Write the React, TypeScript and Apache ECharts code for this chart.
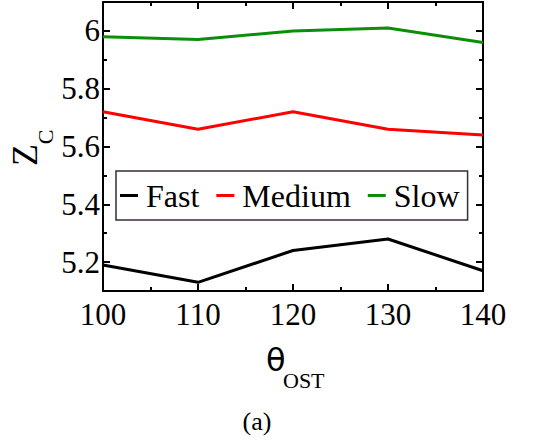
import React, { useEffect, useRef } from "react";
import * as echarts from "echarts";

const thetas = [100, 110, 120, 130, 140];
const fast = [5.19, 5.13, 5.24, 5.28, 5.17];
const medium = [5.72, 5.66, 5.72, 5.66, 5.64];
const slow = [5.98, 5.97, 6.0, 6.01, 5.96];
const yMajor = [5.2, 5.4, 5.6, 5.8, 6];
const yMinor = [5.1, 5.3, 5.5, 5.7, 5.9, 6.1];
const seriesNames = ["Fast", "Medium", "Slow"];
const seriesColors = ["#000000", "#ff0000", "#0b8f0b"];

const SERIF = "serif";

export default function App() {
  const ref = useRef<HTMLDivElement>(null);
  useEffect(() => {
    if (!ref.current) return;
    const chart = echarts.init(ref.current, null, { renderer: "svg" });
    const values = [fast, medium, slow];
    const axisLine = { show: true, lineStyle: { color: "#000", width: 2 } };
    const tickStyle = { color: "#000", width: 2 };
    const yBase = (pos: string, ticks: number[], len: number, labels: boolean, line: boolean) => ({
      type: "value",
      position: pos,
      min: 5.1,
      max: 6.1,
      axisLine: line ? axisLine : { show: false },
      axisTick: { show: true, inside: true, length: len, customValues: ticks, lineStyle: tickStyle },
      axisLabel: labels
        ? {
            show: true,
            customValues: yMajor,
            margin: 3,
            fontSize: 31,
            fontFamily: SERIF,
            color: "#000",
            formatter: (v: number) => String(Math.round(v * 10) / 10),
          }
        : { show: false },
      splitLine: { show: false },
    });
    const xBase = (pos: string, labels: boolean) => ({
      type: "value",
      position: pos,
      min: 100,
      max: 140,
      interval: 10,
      axisLine,
      axisTick: { show: true, inside: true, length: 7, lineStyle: tickStyle },
      minorTick: { show: true, splitNumber: 2, length: 4, lineStyle: tickStyle },
      axisLabel: labels
        ? { show: true, margin: 8, fontSize: 31, fontFamily: SERIF, color: "#000" }
        : { show: false },
      splitLine: { show: false },
    });
    const txt = (text: string, x: number, y: number, size: number, family: string, rot: number, align: string) => ({
      type: "text",
      x,
      y,
      rotation: rot,
      style: { text, fontSize: size, fontFamily: family, fill: "#000", align, verticalAlign: "middle" },
    });
    chart.setOption({
      animation: false,
      backgroundColor: "#fff",
      textStyle: { fontFamily: SERIF },
      grid: { left: 103, right: 70, top: 2, bottom: 150 },
      xAxis: [xBase("bottom", true), xBase("top", false)],
      yAxis: [
        yBase("left", yMajor, 7, true, true),
        yBase("left", yMinor, 4, false, false),
        yBase("right", yMajor, 7, false, true),
        yBase("right", yMinor, 4, false, false),
      ],
      legend: {
        left: 116,
        top: 171,
        orient: "horizontal",
        icon: "rect",
        itemWidth: 18,
        itemHeight: 3,
        itemGap: 17,
        borderColor: "#3a2a3a",
        borderWidth: 1.5,
        borderRadius: 0,
        padding: [6, 8, 6, 4],
        textStyle: { fontSize: 32, fontFamily: SERIF, color: "#000", lineHeight: 37, padding: [0, 0, 0, 3] },
        data: seriesNames,
      },
      series: seriesNames.map((name, i) => ({
        name,
        type: "line",
        xAxisIndex: 0,
        yAxisIndex: 0,
        symbol: "none",
        color: seriesColors[i],
        lineStyle: { color: seriesColors[i], width: 3 },
        data: thetas.map((t, j) => [t, values[i][j]]),
      })),
      graphic: [
        txt("Z", 25, 155, 36, SERIF, Math.PI / 2, "center"),
        txt("C", 45, 137, 22, SERIF, Math.PI / 2, "center"),
        txt("θ", 266, 360, 32, "DejaVu Sans", 0, "left"),
        txt("OST", 283, 380, 22, SERIF, 0, "left"),
        txt("(a)", 257, 421, 26, SERIF, 0, "center"),
      ],
    });
    return () => chart.dispose();
  }, []);
  return <div ref={ref} style={{ position: "fixed", left: 0, top: 0, width: 553, height: 441 }} />;
}
